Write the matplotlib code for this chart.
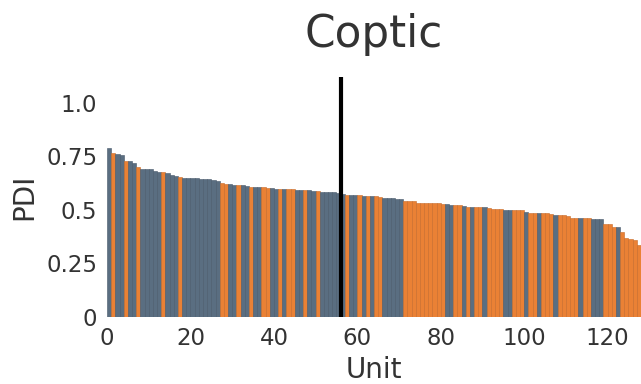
import numpy as np
import matplotlib
matplotlib.use('Agg')
import matplotlib.pyplot as plt

# PDI por unidade (ordenado)
pdi = [0.79, 0.765, 0.76, 0.755, 0.73, 0.728, 0.72, 0.70, 0.693, 0.692,
       0.69, 0.68, 0.678, 0.675, 0.67, 0.665, 0.66, 0.652, 0.648, 0.648,
       0.647, 0.647, 0.646, 0.645, 0.643, 0.64, 0.636, 0.625, 0.623, 0.622,
       0.616, 0.615, 0.614, 0.612, 0.608, 0.607, 0.606, 0.605, 0.60, 0.60,
       0.599, 0.598, 0.597, 0.597, 0.596, 0.595, 0.595, 0.594, 0.592, 0.59,
       0.588, 0.585, 0.584, 0.583, 0.582, 0.58, 0.572, 0.569, 0.568, 0.568,
       0.567, 0.566, 0.565, 0.564, 0.563, 0.562, 0.556, 0.554, 0.553, 0.552,
       0.55, 0.542, 0.541, 0.54, 0.534, 0.533, 0.533, 0.532, 0.531, 0.53,
       0.526, 0.525, 0.524, 0.522, 0.521, 0.52, 0.515, 0.514, 0.514, 0.513,
       0.512, 0.507, 0.506, 0.506, 0.505, 0.50, 0.499, 0.499, 0.498, 0.497,
       0.488, 0.487, 0.486, 0.486, 0.484, 0.483, 0.482, 0.476, 0.475, 0.474,
       0.472, 0.462, 0.461, 0.46, 0.46, 0.46, 0.459, 0.459, 0.458, 0.434,
       0.432, 0.42, 0.418, 0.397, 0.368, 0.365, 0.357, 0.335]

# Unidades da segunda classe (laranja)
orange_units = [1, 4, 7, 13, 17, 27, 28, 31, 34, 37, 38, 41, 43, 44, 47, 50,
                57, 60, 62, 64, 65, 71, 72, 73, 74, 75, 76, 77, 78, 79, 80,
                83, 84, 86, 88, 89, 91, 92, 93, 94, 97, 98, 99, 101, 102,
                104, 105, 106, 108, 109, 110, 111, 112, 114, 115,
                119, 120, 121, 123, 124, 125, 126, 127]

split_unit = 56
yticks = [0, 0.25, 0.5, 0.75, 1.0]
ytick_labels = ['0', '0.25', '0.5', '0.75', '1.0']

blue = '#5a6e81'
orange = '#ea8135'
colors = [orange if i in orange_units else blue for i in range(len(pdi))]
edges = ['#c76a28' if c == orange else '#46576a' for c in colors]

fig = plt.figure(figsize=(6.41, 3.84), dpi=100)
ax = fig.add_axes([0.167, 0.175, 0.833, 0.624])

ax.bar(np.arange(len(pdi)), pdi, width=1.0, align='edge',
       color=colors, edgecolor=edges, linewidth=0.4)
ax.axvline(split_unit, color='black', linewidth=3)

ax.set_xlim(0, len(pdi))
ax.set_ylim(0, 1.12)
ax.set_xticks(np.arange(0, 121, 20))
ax.set_yticks(yticks)
ax.set_yticklabels(ytick_labels)
ax.tick_params(length=0, labelsize=16.5, colors='#333333', pad=7)
ax.set_xlabel('Unit', fontsize=20, color='#333333', labelpad=5)
ax.set_ylabel('PDI', fontsize=20, color='#333333', labelpad=6)
ax.set_title('Coptic', fontsize=31.5, color='#333333', pad=22)
for s in ax.spines.values():
    s.set_visible(False)

fig.savefig('out.png', dpi=100)
